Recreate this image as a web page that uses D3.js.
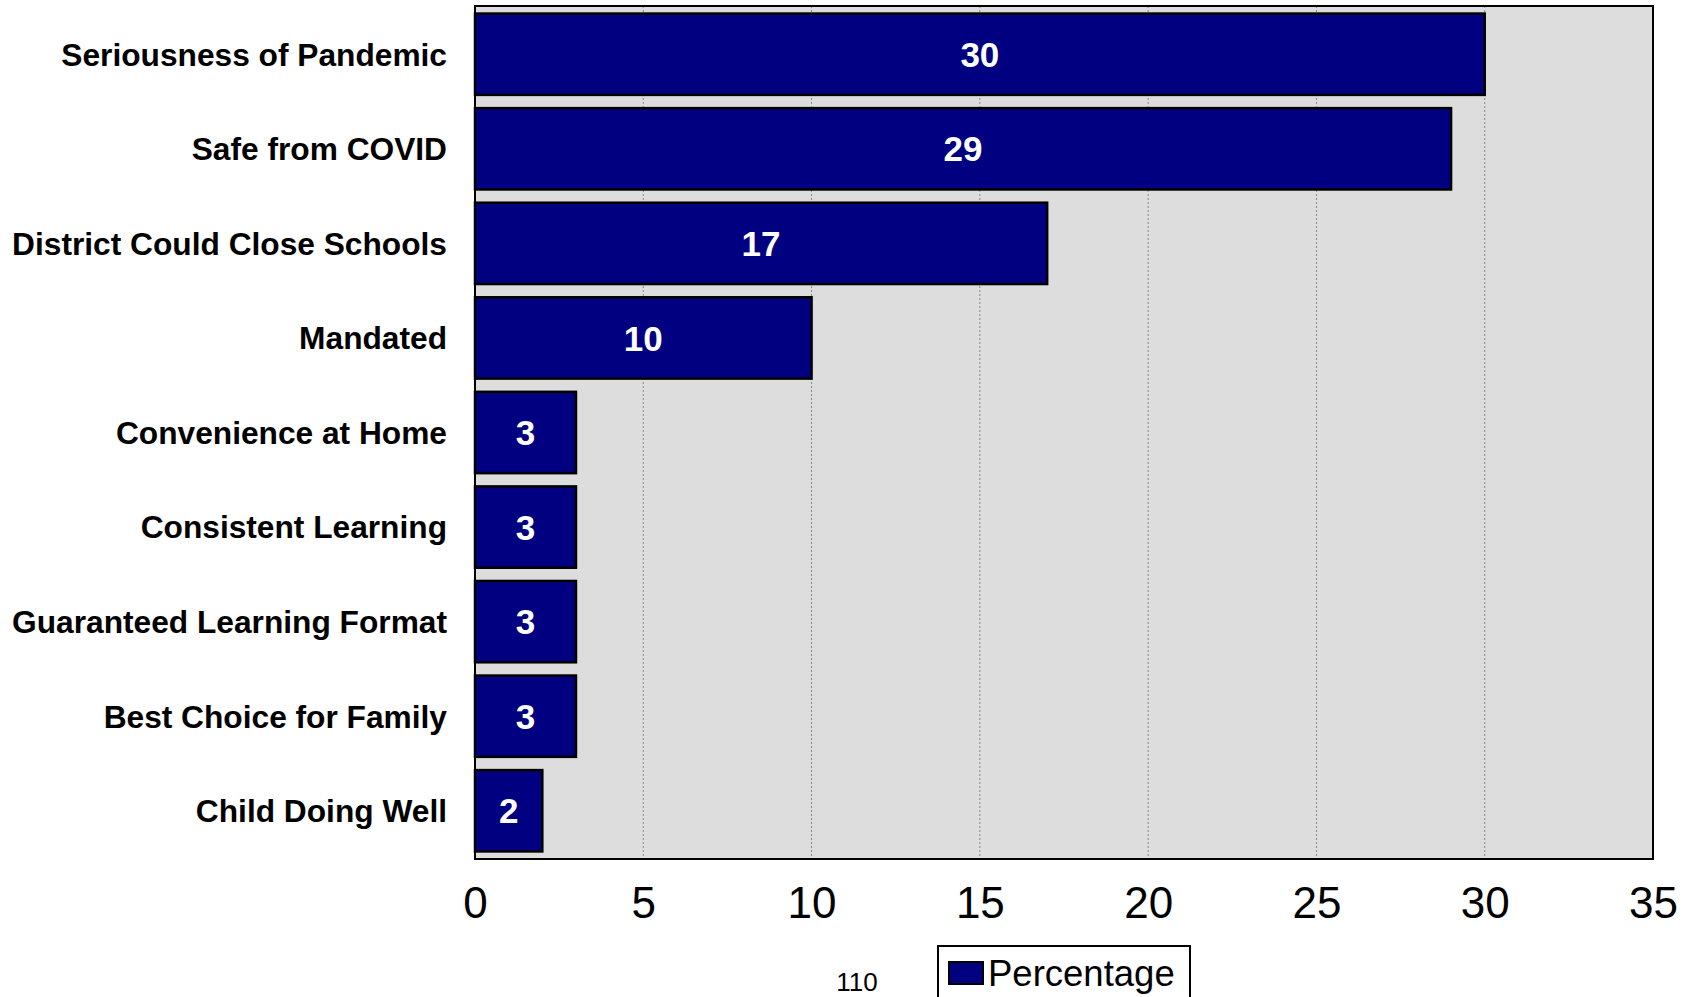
<!DOCTYPE html>
<html>
<head>
<meta charset="utf-8">
<script src="https://cdn.jsdelivr.net/npm/d3@7"></script>
<style>
html,body{margin:0;padding:0;background:#fff;}
svg{display:block;}
</style>
</head>
<body>
<svg id="chart" width="1696" height="997"></svg>
<script>
const categories = ["Seriousness of Pandemic","Safe from COVID","District Could Close Schools","Mandated","Convenience at Home","Consistent Learning","Guaranteed Learning Format","Best Choice for Family","Child Doing Well"];
const values = [30, 29, 17, 10, 3, 3, 3, 3, 2];
const xTicks = [0, 5, 10, 15, 20, 25, 30, 35];
const seriesName = "Percentage";
const pageNote = "110";

const svg = d3.select("#chart");
const pLeft = 475, pTop = 6, pRight = 1653, pBottom = 859;

const x = d3.scaleLinear().domain([0, 35]).range([pLeft, pRight]);
const y = d3.scaleBand().domain(categories).range([pTop, pBottom]).paddingInner(0.14).paddingOuter(0.08);

// plot background
svg.append("rect").attr("x", pLeft).attr("y", pTop).attr("width", pRight-pLeft).attr("height", pBottom-pTop)
  .attr("fill", "#dddddd");

// gridlines
svg.append("g").selectAll("line").data(xTicks.filter(t => t > 0 && t < 35)).join("line")
  .attr("x1", d => x(d)).attr("x2", d => x(d)).attr("y1", pTop).attr("y2", pBottom)
  .attr("stroke", "#8a8a8a").attr("stroke-width", 1).attr("stroke-dasharray", "2,2");

// bars
svg.append("g").selectAll("rect").data(values).join("rect")
  .attr("x", x(0)).attr("y", (d,i) => y(categories[i]))
  .attr("width", d => x(d) - x(0)).attr("height", y.bandwidth())
  .attr("fill", "#000080").attr("stroke", "#000").attr("stroke-width", 2.5);

// value labels
svg.append("g").selectAll("text").data(values).join("text")
  .attr("x", d => (x(0) + x(d)) / 2).attr("y", (d,i) => y(categories[i]) + y.bandwidth()/2)
  .attr("dy", "0.36em").attr("text-anchor", "middle")
  .attr("font-family", "Liberation Sans, Arial, sans-serif").attr("font-weight", "bold")
  .attr("font-size", 35).attr("fill", "#fff")
  .text(d => d);

// frame
svg.append("rect").attr("x", pLeft).attr("y", pTop).attr("width", pRight-pLeft).attr("height", pBottom-pTop)
  .attr("fill", "none").attr("stroke", "#000").attr("stroke-width", 2);

// y axis labels
const yAxis = d3.axisLeft(y).tickSize(0).tickPadding(28);
const gy = svg.append("g").attr("transform", `translate(${pLeft},0)`).call(yAxis);
gy.select(".domain").remove();
gy.selectAll("text").attr("font-family", "Liberation Sans, Arial, sans-serif")
  .attr("font-weight", "bold").attr("font-size", 31.7).attr("fill", "#000").attr("dy", "0.36em");

// x axis
const xAxis = d3.axisBottom(x).tickValues(xTicks).tickSize(0).tickPadding(28).tickFormat(d3.format("d"));
const gx = svg.append("g").attr("transform", `translate(0,${pBottom})`).call(xAxis);
gx.select(".domain").remove();
gx.selectAll("text").attr("font-family", "Liberation Sans, Arial, sans-serif")
  .attr("font-size", 44).attr("fill", "#000");

// page note
svg.append("text").attr("x", 857).attr("y", 991).attr("text-anchor", "middle")
  .attr("font-family", "Liberation Sans, Arial, sans-serif").attr("font-size", 26).attr("fill", "#000")
  .text(pageNote);

// legend
const lg = svg.append("g");
lg.append("rect").attr("x", 938).attr("y", 946).attr("width", 252).attr("height", 70)
  .attr("fill", "#fff").attr("stroke", "#000").attr("stroke-width", 2);
lg.append("rect").attr("x", 949).attr("y", 962).attr("width", 34).attr("height", 22)
  .attr("fill", "#000080").attr("stroke", "#000").attr("stroke-width", 2);
lg.append("text").attr("x", 988).attr("y", 986)
  .attr("font-family", "Liberation Sans, Arial, sans-serif").attr("font-size", 36.5).attr("fill", "#000")
  .text(seriesName);
</script>
</body>
</html>
